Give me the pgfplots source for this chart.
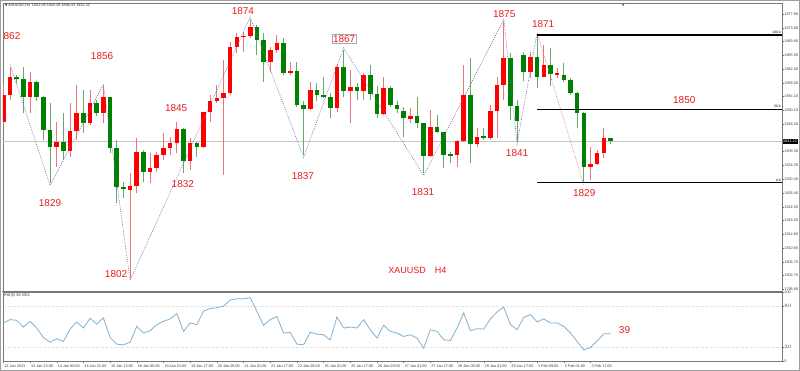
\documentclass[border=0pt]{standalone}
\usepackage{pgfplots}
\pgfplotsset{compat=1.18}
\usepackage{pgfplotstable}
\usepackage{fontspec}
\setmainfont{Liberation Sans}
\newfontfamily\symfont{DejaVu Sans}

\definecolor{upred}{RGB}{255,0,0}
\definecolor{dngreen}{RGB}{0,128,0}
\definecolor{wickred}{RGB}{232,120,120}
\definecolor{wickgreen}{RGB}{105,168,105}
\definecolor{rsiblue}{RGB}{125,178,212}
\definecolor{zigblue}{RGB}{105,105,170}
\definecolor{zigred}{RGB}{222,110,130}
\definecolor{pricegray}{RGB}{198,198,198}
\definecolor{framegray}{RGB}{120,120,120}
\definecolor{labred}{RGB}{230,30,30}

% up (red) candles: i O H L C
\pgfplotstableread{
i O H L C
0 1846.9 1857.4 1845.95 1854.6
1 1854.6 1862.7 1853.1 1859.6
4 1854.1 1861.3 1849.3 1858.4
8 1839.5 1846.9 1834.0 1841.2
10 1838.6 1852.2 1836.9 1844.3
11 1844.3 1857.4 1841.7 1849.5
13 1846.4 1856.0 1846.0 1852.4
15 1849.3 1857.0 1846.4 1853.9
19 1827.3 1832.1 1801.95 1828.5
20 1828.5 1842.1 1826.3 1838.1
22 1832.6 1837.8 1829.2 1833.5
23 1833.5 1838.3 1832.6 1837.3
24 1837.3 1843.6 1835.9 1839.3
25 1839.3 1842.6 1837.3 1840.7
26 1840.7 1846.9 1837.8 1844.7
28 1835.7 1842.1 1833.0 1840.7
30 1839.7 1849.8 1839.3 1849.6
31 1849.6 1854.6 1846.9 1852.7
32 1852.7 1857.4 1852.2 1853.6
33 1853.6 1864.6 1831.6 1855.2
34 1855.2 1869.9 1854.6 1868.2
35 1868.2 1872.3 1866.5 1871.1
36 1871.1 1872.7 1867.0 1871.5
37 1871.5 1876.3 1870.8 1874.0
40 1864.1 1868.4 1861.3 1867.5
41 1867.5 1871.8 1866.5 1869.6
43 1861.0 1864.1 1860.3 1861.5
46 1850.5 1858.4 1850.3 1856.0
50 1850.7 1863.2 1849.8 1862.5
52 1855.8 1861.7 1846.4 1856.8
54 1855.8 1860.8 1853.1 1860.3
57 1849.1 1859.8 1848.8 1856.5
61 1847.7 1850.7 1846.4 1848.5
64 1837.1 1850.3 1836.9 1845.3
68 1837.2 1841.7 1834.0 1841.5
69 1841.5 1863.2 1841.2 1854.6
71 1840.5 1845.0 1839.7 1842.4
73 1842.1 1851.7 1841.7 1850.1
74 1850.1 1859.8 1842.1 1857.4
75 1857.4 1875.6 1853.1 1865.1
79 1861.3 1867.0 1859.3 1865.4
81 1859.8 1868.9 1859.6 1863.2
83 1860.4 1862.2 1859.3 1860.8
88 1834.0 1839.7 1830.2 1834.9
89 1834.9 1838.8 1834.5 1837.8
90 1837.8 1845.0 1836.4 1842.1
}\upbars

% down (green) candles: i O H L C
\pgfplotstableread{
i O H L C
2 1859.6 1860.3 1857.9 1859.1
3 1859.1 1862.7 1849.3 1854.1
5 1858.4 1858.6 1852.7 1854.1
6 1854.1 1854.3 1841.7 1844.5
7 1844.5 1852.2 1829.2 1839.5
9 1841.2 1849.3 1835.9 1838.6
12 1849.5 1856.0 1843.6 1846.4
14 1852.4 1853.1 1848.4 1849.3
16 1853.9 1854.1 1837.8 1839.3
17 1839.3 1841.7 1823.5 1828.3
18 1828.3 1829.7 1824.9 1827.6
21 1838.1 1838.8 1829.7 1832.6
27 1844.7 1845.0 1832.1 1835.7
29 1840.7 1841.2 1836.9 1839.7
38 1874.0 1874.6 1866.0 1870.2
39 1870.2 1872.3 1858.4 1864.1
42 1869.6 1870.8 1860.3 1861.0
44 1861.5 1864.1 1851.2 1851.7
45 1851.7 1852.7 1837.3 1850.5
47 1856.0 1857.9 1852.7 1854.6
48 1854.6 1859.8 1853.6 1854.1
49 1854.1 1855.0 1847.9 1850.7
51 1862.5 1867.5 1854.1 1855.8
53 1856.8 1857.9 1853.1 1855.8
55 1860.3 1863.2 1853.1 1854.9
56 1854.9 1857.0 1847.9 1849.1
58 1856.5 1857.0 1851.2 1851.7
59 1851.7 1852.7 1849.3 1850.5
60 1850.1 1851.2 1842.6 1847.9
62 1848.5 1854.1 1845.0 1846.6
63 1846.4 1846.6 1832.1 1837.1
65 1845.3 1848.8 1843.6 1844.0
66 1843.8 1844.0 1833.5 1837.3
67 1837.5 1838.3 1835.0 1837.1
70 1854.6 1865.1 1835.0 1840.5
72 1842.8 1845.0 1841.7 1842.1
76 1865.1 1866.5 1847.4 1851.4
77 1851.4 1853.1 1841.2 1847.2
78 1866.0 1867.0 1858.5 1861.3
80 1865.4 1871.8 1856.5 1859.8
82 1863.2 1868.0 1857.0 1860.6
84 1860.3 1863.6 1858.4 1858.9
85 1858.9 1859.3 1854.6 1855.2
86 1855.2 1855.4 1845.0 1849.3
87 1849.3 1849.8 1829.4 1834.0
91 1842.09 1842.28 1840.43 1841.22
}\dnbars

% RSI(5)
\pgfplotstableread{
i R
0 55.1
1 60.0
2 59.0
3 49.2
4 57.5
5 47.8
6 34.1
7 27.3
8 32.2
9 28.3
10 46.3
11 56.6
12 47.8
13 61.9
14 53.6
15 62.4
16 34.1
17 24.4
18 23.4
19 27.3
20 50.2
21 40.5
22 43.9
23 52.7
24 57.5
25 61.0
26 68.8
27 42.9
28 55.1
29 52.7
30 72.2
31 76.1
32 77.1
33 79.5
34 88.3
35 90.2
36 90.2
37 91.7
38 72.2
39 51.7
40 60.0
41 64.4
42 40.5
43 41.4
44 24.4
45 23.4
46 41.9
47 39.0
48 38.0
49 30.7
50 63.9
51 47.8
52 49.2
53 47.8
54 60.0
55 45.3
56 33.2
57 51.7
58 42.9
59 40.5
60 35.6
61 38.0
62 33.2
63 18.5
64 45.3
65 42.9
66 30.7
67 29.7
68 47.8
69 69.7
70 43.9
71 46.8
72 46.3
73 61.0
74 71.2
75 78.0
76 52.7
77 45.3
78 63.4
79 67.3
80 56.6
81 61.0
82 55.1
83 55.1
84 50.2
85 40.5
86 28.3
87 16.1
88 19.5
89 29.2
90 39.5
91 39.4
}\rsidata

\newcommand{\lab}{\fontsize{10}{12}\selectfont\color{labred}}
\newcommand{\tinyf}{\fontsize{3.8}{4.2}\selectfont}

\begin{document}
\begin{tikzpicture}
\fill[white] (0pt,0pt) rectangle (800pt,371pt);
\path[use as bounding box] (0pt,0pt) rectangle (800pt,371pt);
\draw[framegray!70, line width=0.8pt] (0.6pt,0.6pt) rectangle (799.4pt,370.4pt);

% ---------------- main price pane ----------------
\begin{axis}[
  at={(3pt,80pt)}, anchor=south west,
  width=779pt, height=288pt, scale only axis,
  xmin=-0.05, xmax=116.7,
  ymin=1798.32, ymax=1880.96,
  clip mode=individual,
  axis line style={framegray, line width=0.8pt},
  xtick=\empty,
  ytick={1877.80,1873.80,1869.90,1865.90,1862.00,1858.00,1854.10,1850.10,1846.20,1838.30,1834.30,1830.40,1826.40,1822.50,1818.55,1814.60,1810.65,1806.70,1802.75,1798.80},
  yticklabels={1877.80,1873.80,1869.90,1865.90,1862.00,1858.00,1854.10,1850.10,1846.20,1838.30,1834.30,1830.40,1826.40,1822.50,1818.55,1814.60,1810.65,1806.70,1802.75,1798.80},
  ytick pos=right, yticklabel pos=right,
  tick align=outside, major tick length=1.6pt,
  tick style={framegray, line width=0.4pt},
  yticklabel style={font=\tinyf, anchor=west, inner sep=0.6pt, text=black!75},
]
% current price line
\addplot[pricegray, line width=0.8pt, forget plot] coordinates {(-1,1841.22) (117,1841.22)};

% wicks
\addplot[draw=none, no markers, forget plot,
  error bars/.cd, y dir=plus, y explicit, error mark=none,
  error bar style={draw=wickred, line width=0.9pt, solid}]
  table[x=i, y=L, y error expr=\thisrow{H}-\thisrow{L}] {\upbars};
\addplot[draw=none, no markers, forget plot,
  error bars/.cd, y dir=plus, y explicit, error mark=none,
  error bar style={draw=wickgreen, line width=0.9pt, solid}]
  table[x=i, y=L, y error expr=\thisrow{H}-\thisrow{L}] {\dnbars};
% bodies
\addplot[draw=none, no markers, forget plot,
  error bars/.cd, y dir=plus, y explicit, error mark=none,
  error bar style={draw=upred, line width=4.6pt, solid}]
  table[x=i, y=O, y error expr=\thisrow{C}-\thisrow{O}] {\upbars};
\addplot[draw=none, no markers, forget plot,
  error bars/.cd, y dir=plus, y explicit, error mark=none,
  error bar style={draw=dngreen, line width=4.6pt, solid}]
  table[x=i, y=C, y error expr=\thisrow{O}-\thisrow{C}] {\dnbars};

% zigzag
\addplot[zigblue, line width=0.6pt, dash pattern=on 0.9pt off 1.3pt, forget plot]
  coordinates {(1,1863.3) (7,1828.6) (15,1857.6) (19,1801.4) (37,1876.9) (45,1836.7)
               (51,1868.1) (63,1831.5) (75,1876.2) (77,1840.6) (80,1872.4)};
\addplot[zigred, line width=0.6pt, dash pattern=on 0.9pt off 1.3pt, forget plot]
  coordinates {(80,1872.4) (87,1828.8)};

% fibonacci levels
\addplot[black, line width=1.2pt, forget plot] coordinates {(80,1871.8) (116.7,1871.8)};
\addplot[black, line width=1.2pt, forget plot] coordinates {(80,1850.5) (116.7,1850.5)};
\addplot[black, line width=1.2pt, forget plot] coordinates {(80,1829.4) (116.7,1829.4)};
\node[font=\fontsize{3.3}{3.6}\selectfont, anchor=south east, inner sep=0.4pt] at (axis cs:116.6,1872.1) {100.0};
\node[font=\fontsize{3.3}{3.6}\selectfont, anchor=south east, inner sep=0.4pt] at (axis cs:116.6,1850.8) {50.0};
\node[font=\fontsize{3.3}{3.6}\selectfont, anchor=south east, inner sep=0.4pt] at (axis cs:116.6,1829.7) {0.0};

% price box
\node[fill=black, text=white, font=\tinyf, anchor=west, inner sep=0.7pt] at (axis cs:116.75,1841.22) {1841.22};

% header
\node[anchor=north west, font=\tinyf, inner sep=0pt, text=black!80] at ([xshift=2pt,yshift=-1pt]axis description cs:0,1) {{\symfont\fontsize{3}{3}\selectfont▼}\,XAUUSD,H4\ \ 1842.09 1842.28 1840.43 1841.22};
\node[font=\symfont\fontsize{3}{3}\selectfont, text=black!70, inner sep=0pt] at (axis cs:92.9,1880.1) {▼};

% annotations
\node[font=\lab, anchor=east, inner sep=0pt] at (axis cs:2.58,1871.49) {862};
\node[font=\lab] at (axis cs:14.8,1865.75) {1856};
\node[font=\lab] at (axis cs:35.9,1878.66) {1874};
\node[font=\lab] at (axis cs:25.9,1850.83) {1845};
\node[font=\lab] at (axis cs:7.0,1823.57) {1829};
\node[font=\lab] at (axis cs:26.9,1829.02) {1832};
\node[font=\lab] at (axis cs:16.9,1803.2) {1802};
\node[font=\lab, draw=gray!70, line width=0.4pt, inner sep=1pt] at (axis cs:51.08,1870.63) {1867};
\node[font=\lab] at (axis cs:44.9,1831.32) {1837};
\node[font=\lab] at (axis cs:62.9,1826.7) {1831};
\node[font=\lab] at (axis cs:75.07,1877.8) {1875};
\node[font=\lab] at (axis cs:77.0,1837.9) {1841};
\node[font=\lab] at (axis cs:80.9,1874.93) {1871};
\node[font=\lab] at (axis cs:102.05,1853.13) {1850};
\node[font=\lab] at (axis cs:87.06,1826.4) {1829};
\node[font=\fontsize{9}{11}\selectfont\color{labred}] at (axis cs:62.07,1804.34) {XAUUSD\hspace{9pt}H4};
\end{axis}

% separator
\draw[framegray, line width=1.6pt] (2pt,79.5pt) -- (782pt,79.5pt);

% ---------------- RSI pane ----------------
\begin{axis}[
  at={(3pt,10pt)}, anchor=south west,
  width=779pt, height=69pt, scale only axis,
  xmin=-0.05, xmax=116.7,
  ymin=0, ymax=100,
  clip mode=individual,
  axis line style={framegray, line width=0.8pt},
  ytick={20,80},
  extra y ticks={0,100},
  extra y tick labels={0,100},
  extra y tick style={grid=none, yticklabel style={yshift=0pt}},
  ymajorgrids,
  major grid style={gray!35, dash pattern=on 1pt off 1.5pt, line width=0.5pt},
  ytick pos=right, yticklabel pos=right,
  tick align=outside, major tick length=1.6pt,
  tick style={framegray, line width=0.4pt},
  yticklabel style={font=\tinyf, anchor=west, inner sep=0.6pt, text=black!75},
  xtick={0,4,...,88},
  xticklabels={12 Jan 2021,13 Jan 13:00,14 Jan 05:00,14 Jan 21:00,15 Jan 13:00,18 Jan 05:00,19 Jan 01:00,19 Jan 17:00,20 Jan 09:00,21 Jan 01:00,21 Jan 17:00,22 Jan 09:00,25 Jan 01:00,25 Jan 17:00,26 Jan 09:00,27 Jan 01:00,27 Jan 17:00,28 Jan 09:00,29 Jan 01:00,29 Jan 17:00,1 Feb 09:00,2 Feb 01:00,2 Feb 17:00},
  xtick pos=bottom,
  xticklabel style={font=\tinyf, anchor=north west, inner sep=0pt, xshift=0.8pt, yshift=-1.6pt, text=black!75},
]
\addplot[rsiblue, line width=0.8pt, forget plot] table[x=i, y=R] {\rsidata};
\node[anchor=north west, font=\tinyf, inner sep=0pt, text=black!80] at ([xshift=1pt,yshift=-1.2pt]axis description cs:0,1) {RSI(5) 39.3951};
\node[font=\lab] at (axis cs:93.1,44.9) {39};
\end{axis}
\end{tikzpicture}
\end{document}
